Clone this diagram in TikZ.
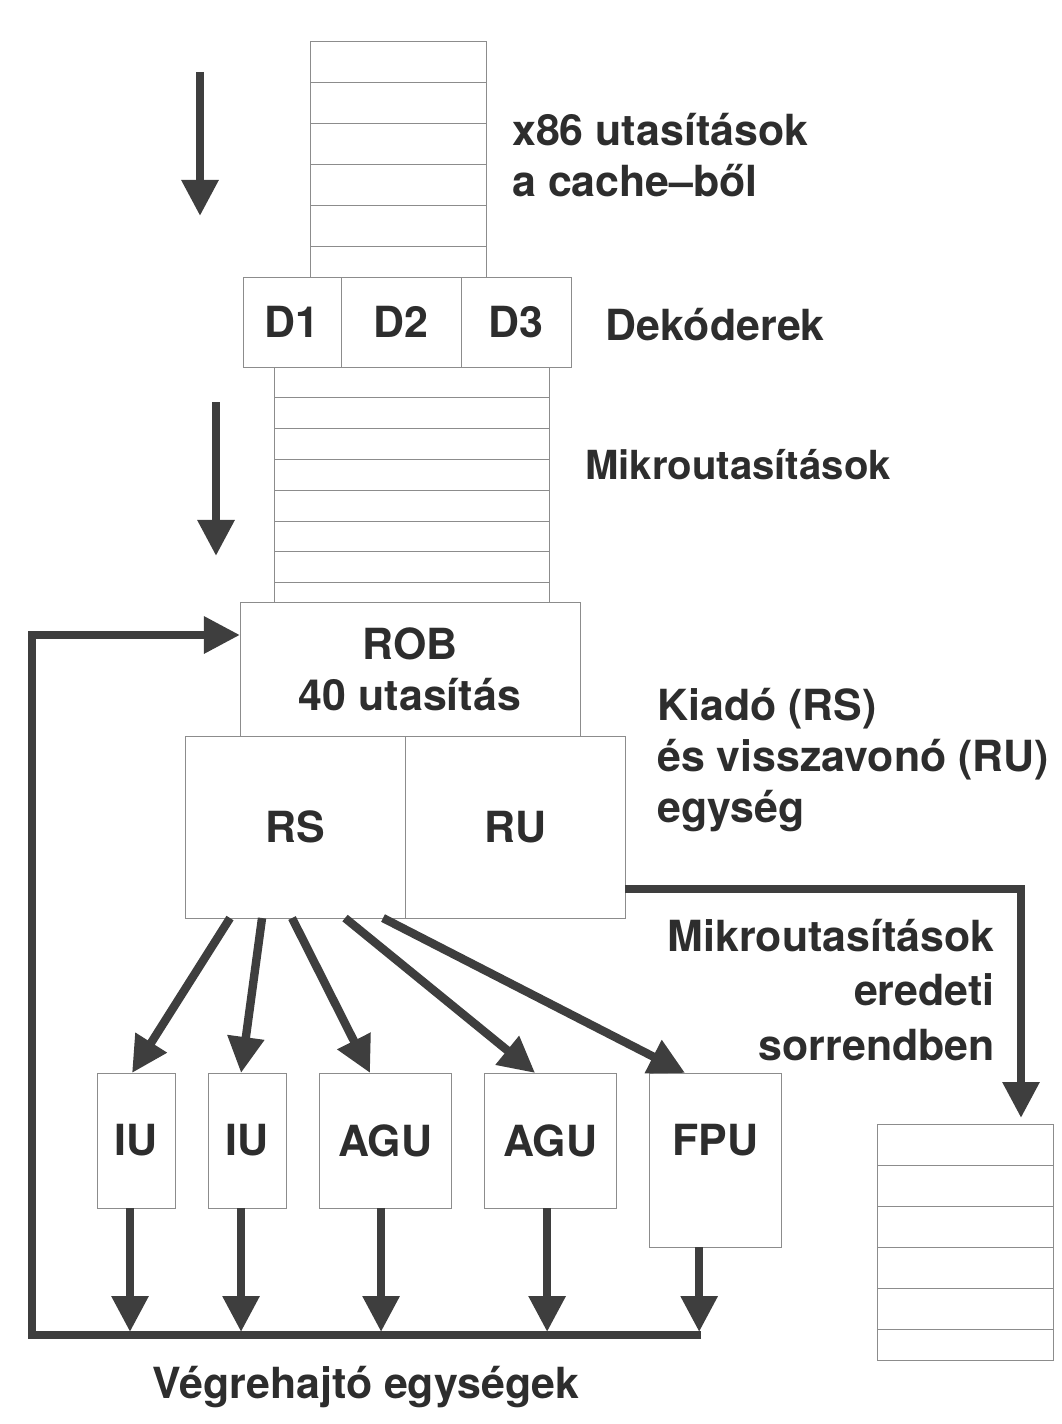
\documentclass[tikz,border=0pt]{standalone}
\usepackage{fontspec}
\setmainfont{TeX Gyre Heros}
\usetikzlibrary{positioning,calc,arrows.meta}
\definecolor{ppline}{RGB}{140,140,140}
\definecolor{ppink}{RGB}{62,62,62}
\definecolor{pptext}{RGB}{45,45,45}

\begin{document}
\begin{tikzpicture}[x=0.025cm, y=-0.025cm,
    box/.style={draw=ppline, line width=0.6pt, fill=white, rectangle, inner sep=0pt, outer sep=0pt, anchor=north west},
    lbl/.style={font=\fontsize{30.5}{36}\selectfont\bfseries, text=pptext, inner sep=0pt},
    rowline/.style={draw=ppline, line width=0.6pt},
    flow/.style={draw=ppink, line width=0.21cm, -{Triangle[width=0.88cm,length=0.9cm]}}]
    \useasboundingbox (0,0) rectangle (1062,1424);

    % stacks and decoders
    \node[box, minimum width=4.4cm, minimum height=5.9cm] (cachestk) at (310,41) {};
    \foreach \i in {1,...,5}
        \draw[rowline] ([yshift=-\i*1.025cm]cachestk.north west) -- ([yshift=-\i*1.025cm]cachestk.north east);
    \node[box, minimum width=6.875cm, minimum height=5.875cm] (microstk) at (274,367) {};
    \foreach \i in {1,...,7}
        \draw[rowline] ([yshift=-\i*0.77cm]microstk.north west) -- ([yshift=-\i*0.77cm]microstk.north east);
    \node[box, lbl, minimum width=2.45cm, minimum height=2.25cm] (d1) at (243,277) {D1};
    \node[box, lbl, minimum width=3cm, minimum height=2.25cm, right=0pt of d1] (d2) {D2};
    \node[box, lbl, minimum width=2.75cm, minimum height=2.25cm, right=0pt of d2] (d3) {D3};

    % ROB, RS, RU
    \node[box, lbl, align=center, minimum width=8.5cm, minimum height=3.35cm] (rob) at (240,602) {ROB\\40 utasítás};
    \node[box, lbl, minimum width=5.5cm, minimum height=4.55cm] (rs) at (185,736) {RS};
    \node[box, lbl, minimum width=5.5cm, minimum height=4.55cm, right=0pt of rs] (ru) {RU};

    % execution units
    \node[box, lbl, minimum width=1.95cm, minimum height=3.375cm] (iu1) at (97,1073) {IU};
    \node[box, lbl, minimum width=1.95cm, minimum height=3.375cm, right=0.825cm of iu1] (iu2) {IU};
    \node[box, lbl, minimum width=3.3cm, minimum height=3.375cm, right=0.825cm of iu2] (agu1) {AGU};
    \node[box, lbl, minimum width=3.3cm, minimum height=3.375cm, right=0.825cm of agu1] (agu2) {AGU};
    \node[box, minimum width=3.3cm, minimum height=4.35cm] (fpu) at ([xshift=0.825cm]agu2.north east) {};
    \node[lbl] (fpulbl) at (fpu.north |- agu2) {FPU};

    % retired micro-ops
    \node[box, minimum width=4.4cm, minimum height=5.9cm] (retirestk) at (877,1124) {};
    \foreach \i in {1,...,5}
        \draw[rowline] ([yshift=-\i*1.025cm]retirestk.north west) -- ([yshift=-\i*1.025cm]retirestk.north east);

    % labels
    \node[lbl, anchor=west, align=left] (x86lbl) at (512,155) {x86 utasítások\\a cache–ből};
    \node[lbl, anchor=west] (declbl) at (605,325) {Dekóderek};
    \node[lbl, anchor=west, font=\fontsize{28.5}{34}\selectfont\bfseries] (microlbl) at (585,465) {Mikroutasítások};
    \node[lbl, anchor=west, align=left] (rsrulbl) at (657,760) {Kiadó (RS)\\és visszavonó (RU)\\egység};
    \node[lbl, anchor=east, align=right, font=\fontsize{30.5}{39}\selectfont\bfseries] (orderlbl) at (995,990) {Mikroutasítások\\eredeti\\sorrendben};
    \node[lbl, anchor=west] (execlbl) at (152,1387) {Végrehajtó egységek};

    % flow arrows
    \coordinate (in1) at (200,72);
    \coordinate (in1e) at (200,216);
    \coordinate (in2) at (216,402);
    \coordinate (in2e) at (216,556);
    \draw[flow] (in1) -- (in1e);
    \draw[flow] (in2) -- (in2e);

    \coordinate (busR) at (701,1335);
    \coordinate (busL) at (32,1335);
    \coordinate (fbT) at (32,635);
    \draw[flow] (busR) -- (busL) -- (fbT) -- (fbT -| rob.west);

    \foreach \from/\u/\dx in {-65/iu1/-4, -33/iu2/-6, -3/agu1/-15, 50/agu2/-15, 88/fpu/-30}
        \draw[flow] ($(rs.south)+(\from,0)$) -- ($(\u.north)+(\dx,0)$);
    \foreach \u/\dx in {iu1/-6, iu2/-6, agu1/-4, agu2/-3, fpu/-16}
        \draw[flow] ($(\u.south)+(\dx,0)$) -- ($(\u.south |- busL)+(\dx,-3)$);

    \coordinate (turn) at (1021,889);
    \draw[flow] (ru.east |- turn) -- (turn) -- ($(turn |- retirestk.north)+(0,-6)$);
\end{tikzpicture}
\end{document}
